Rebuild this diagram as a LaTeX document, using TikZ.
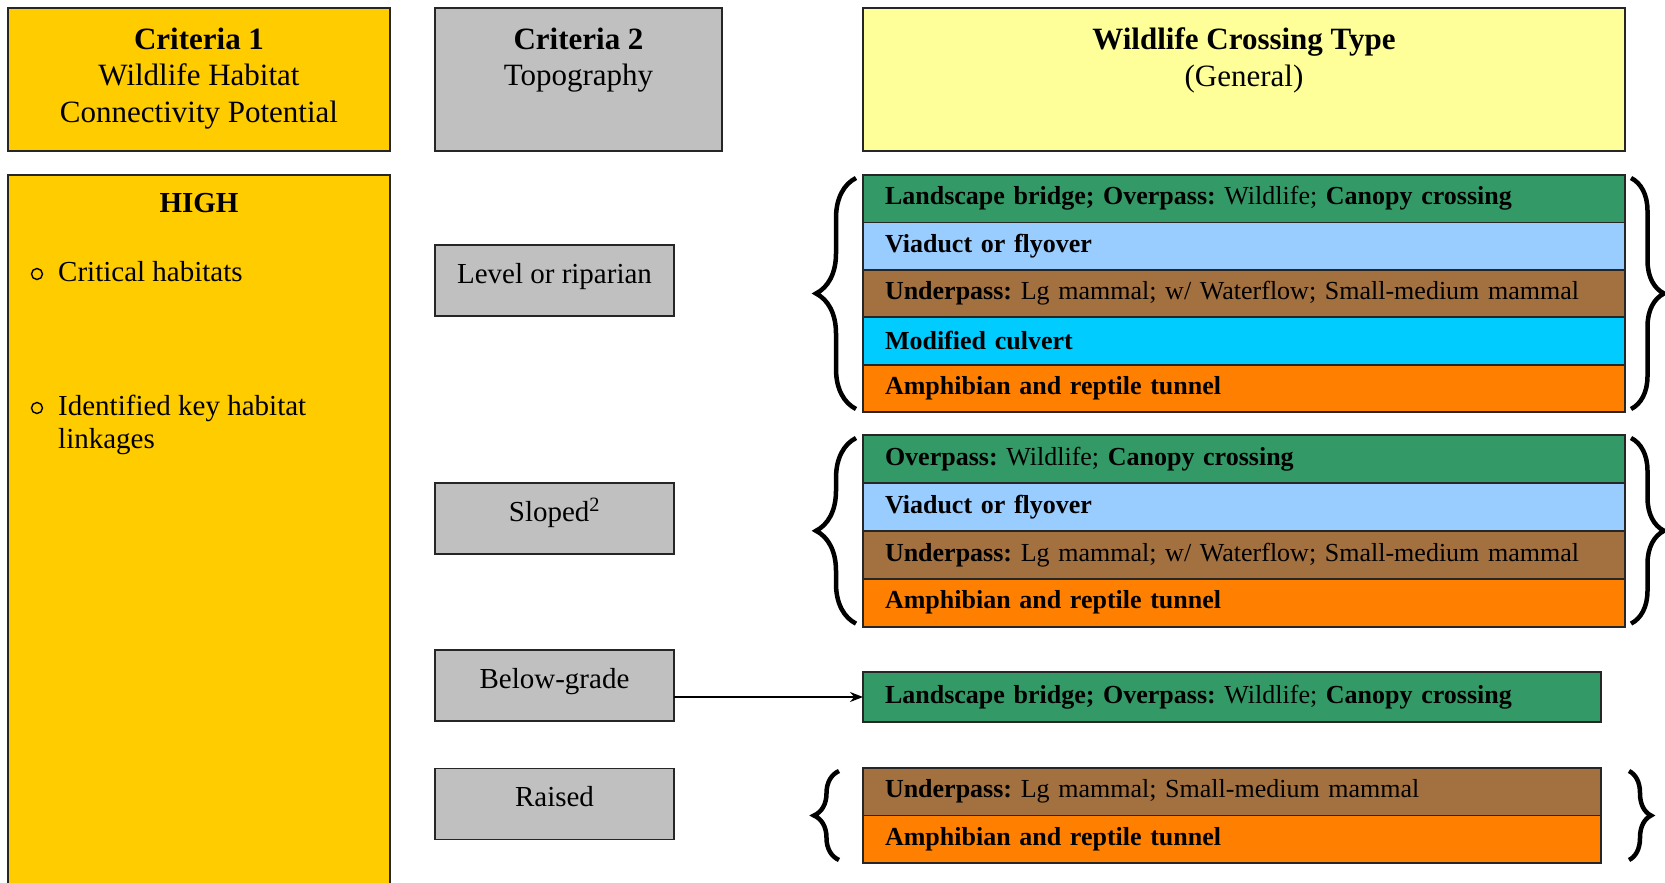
\documentclass[tikz,border=0pt]{standalone}
\usepackage{fontspec}
\setmainfont{Liberation Serif}
\usetikzlibrary{decorations.pathreplacing,arrows.meta}
\definecolor{cyel}{HTML}{FFCC00}
\definecolor{cgray}{HTML}{C0C0C0}
\definecolor{clyel}{HTML}{FFFF99}
\definecolor{cgreen}{HTML}{339966}
\definecolor{clblue}{HTML}{99CCFF}
\definecolor{cbrown}{HTML}{A3703F}
\definecolor{ccyan}{HTML}{00CCFF}
\definecolor{corange}{HTML}{FF8000}
\frenchspacing
\begin{document}
\begin{tikzpicture}[x=1pt,y=-1pt,
  box/.style={draw=black!85, line width=1.8pt, inner sep=0pt, outer sep=0pt, rectangle},
  head/.style={anchor=north, align=center, inner sep=0pt, font=\fontsize{31}{36.7}\selectfont},
  btxt/.style={anchor=north west, align=left, inner sep=0pt, font=\fontsize{29}{33}\selectfont},
  topo/.style={box, fill=cgray, minimum width=239pt, minimum height=71pt, font=\fontsize{29}{33}\selectfont, text height=20pt, text depth=15pt},
  row/.style={box, anchor=north west, minimum height=#1, inner xsep=22pt, align=left, font=\fontsize{26}{30}\selectfont},
  wrow/.style={row=#1, text width=718pt},
  nrow/.style={row=#1, text width=694pt},
  brace/.style={decorate, decoration={brace, amplitude=#1}, line width=4.5pt},
  bul/.style={circle, draw=black, line width=1.4pt, minimum size=11pt, inner sep=0pt}
]
\useasboundingbox (0,0) rectangle (1665,883);
\clip (0,0) rectangle (1665,883);

% header boxes
\node[box, fill=cyel, minimum width=382pt, minimum height=143pt] (c1) at (199,79.5) {};
\node[head] (c1t) at ([yshift=-19.5pt]c1.north) {\textbf{Criteria 1}\\Wildlife Habitat\\Connectivity Potential};
\node[box, fill=cgray, minimum width=287pt, minimum height=143pt] (c2) at (578.5,79.5) {};
\node[head] (c2t) at ([yshift=-19.5pt]c2.north) {\textbf{Criteria 2}\\Topography};
\node[box, fill=clyel, minimum width=762pt, minimum height=143pt] (wc) at (1244,79.5) {};
\node[head] (wct) at ([yshift=-19.5pt]wc.north) {\textbf{Wildlife Crossing Type}\\(General)};

% HIGH box
\node[box, fill=cyel, minimum width=382pt, minimum height=740pt, anchor=north west] (hi) at (8,175) {};
\node[head, font=\fontsize{29}{33}\selectfont] (hit) at ([yshift=-18pt]hi.north) {\textbf{HIGH}};
\node[bul] (b1) at (37,274) {};
\node[btxt] (b1t) at (58,261) {Critical habitats};
\node[bul] (b2) at (37,408) {};
\node[btxt] (b2t) at (58,395) {Identified key habitat\\linkages};

% topography boxes
\node[topo] (lv) at (554.5,280.5) {Level or riparian};
\node[topo] (sl) at (554.5,518.5) {Sloped\textsuperscript{2}};
\node[topo] (bg) at (554.5,685.5) {Below-grade};
\node[topo] (rs) at (554.5,804) {Raised};

% group 1
\node[wrow=47.4pt, fill=cgreen] (g1a) at (863,175) {\textbf{Landscape bridge; Overpass:} Wildlife; \textbf{Canopy crossing}};
\node[wrow=47.4pt, fill=clblue] (g1b) at (g1a.south west) {\textbf{Viaduct or flyover}};
\node[wrow=47.4pt, fill=cbrown] (g1c) at (g1b.south west) {\textbf{Underpass:} Lg mammal; w/ Waterflow; Small-medium mammal};
\node[wrow=47.4pt, fill=ccyan] (g1d) at (g1c.south west) {\textbf{Modified culvert}};
\node[wrow=47.4pt, fill=corange] (g1e) at (g1d.south west) {\textbf{Amphibian and reptile tunnel}};

% group 2
\node[wrow=47.9pt, fill=cgreen] (g2a) at (863,435) {\textbf{Overpass:} Wildlife; \textbf{Canopy crossing}};
\node[wrow=47.9pt, fill=clblue] (g2b) at (g2a.south west) {\textbf{Viaduct or flyover}};
\node[wrow=47.9pt, fill=cbrown] (g2c) at (g2b.south west) {\textbf{Underpass:} Lg mammal; w/ Waterflow; Small-medium mammal};
\node[wrow=47.9pt, fill=corange] (g2d) at (g2c.south west) {\textbf{Amphibian and reptile tunnel}};

% below-grade
\node[nrow=50pt, fill=cgreen] (br) at (863,672) {\textbf{Landscape bridge; Overpass:} Wildlife; \textbf{Canopy crossing}};
\draw[-{Stealth[length=13pt,width=10pt]}, line width=1.4pt] (bg.east |- br.west) -- (br.west);

% raised
\node[nrow=47.5pt, fill=cbrown] (r1) at (863,768) {\textbf{Underpass:} Lg mammal; Small-medium mammal};
\node[nrow=47.5pt, fill=corange] (r2) at (r1.south west) {\textbf{Amphibian and reptile tunnel}};

% braces
\draw[brace=40pt] ([xshift=-7pt,yshift=3pt]g1e.south west) -- ([xshift=-7pt,yshift=-3pt]g1a.north west);
\draw[brace=33pt] ([xshift=6pt,yshift=-3pt]g1a.north east) -- ([xshift=6pt,yshift=3pt]g1e.south east);
\draw[brace=40pt] ([xshift=-7pt,yshift=3pt]g2d.south west) -- ([xshift=-7pt,yshift=-3pt]g2a.north west);
\draw[brace=33pt] ([xshift=6pt,yshift=-3pt]g2a.north east) -- ([xshift=6pt,yshift=3pt]g2d.south east);
\draw[brace=25pt] ([xshift=-24pt,yshift=3pt]r2.south west) -- ([xshift=-24pt,yshift=-3pt]r1.north west);
\draw[brace=22pt] ([xshift=28pt,yshift=-3pt]r1.north east) -- ([xshift=28pt,yshift=3pt]r2.south east);
\end{tikzpicture}
\end{document}
